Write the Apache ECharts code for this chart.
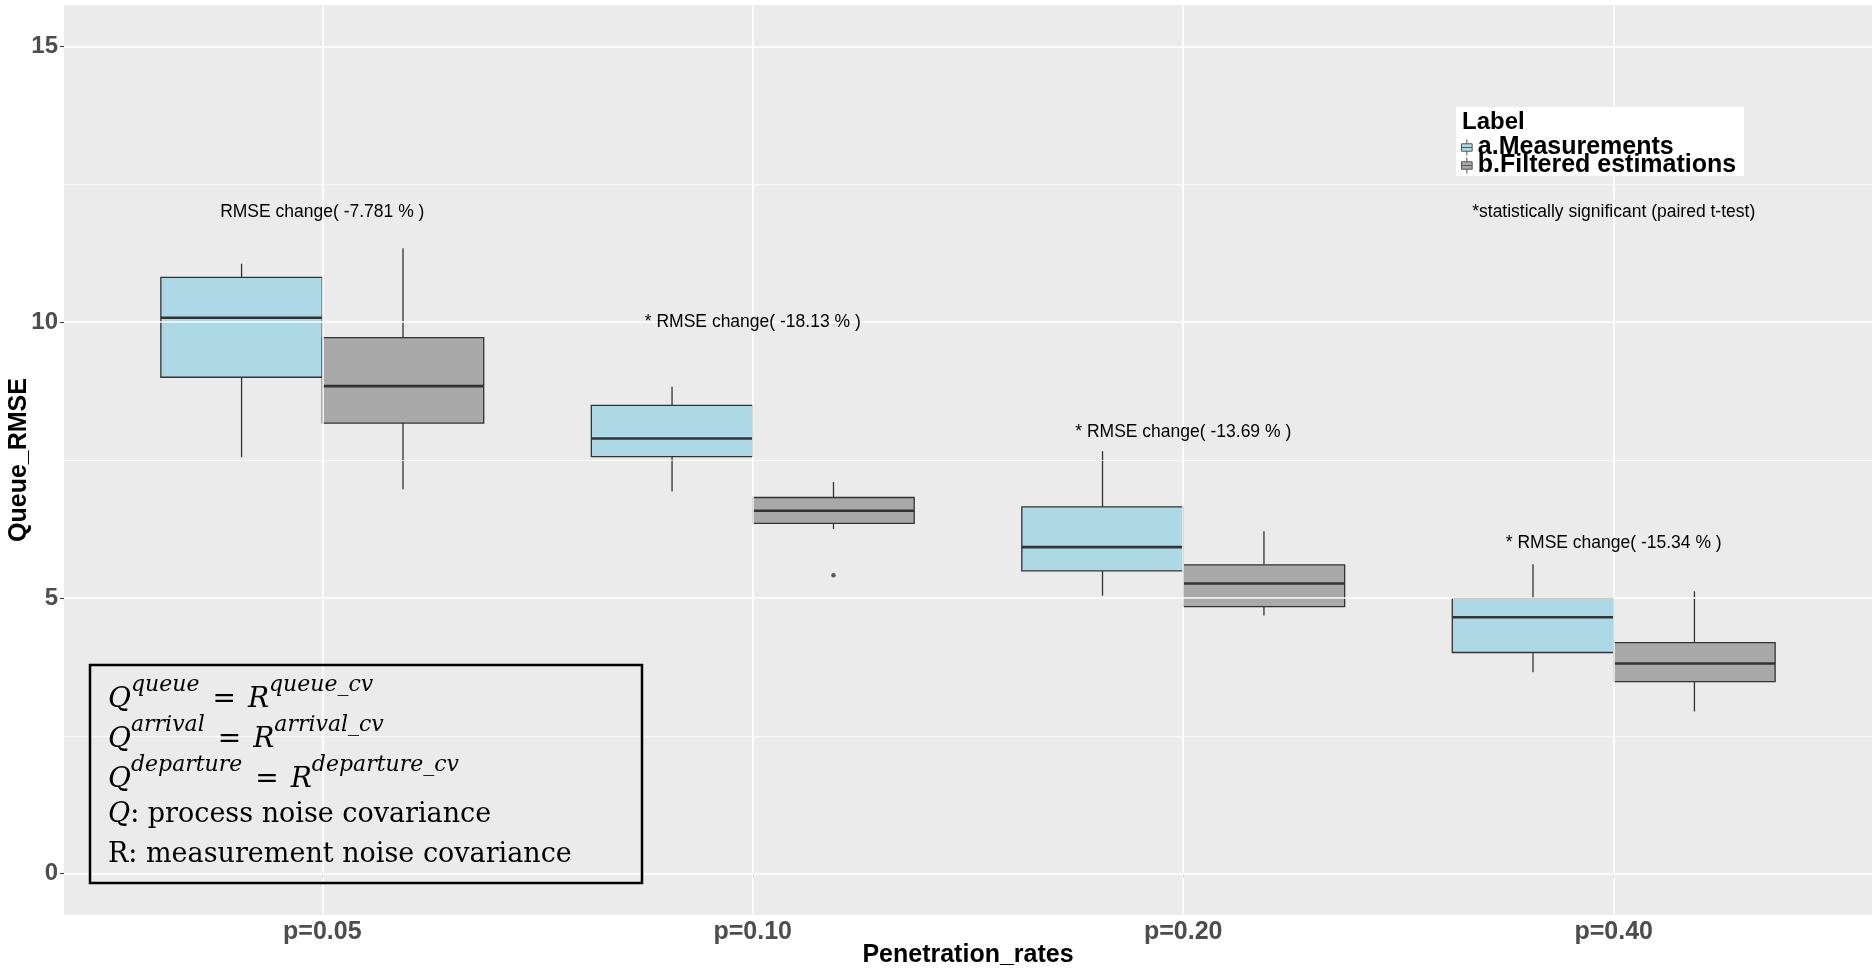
<!DOCTYPE html>
<html>
<head>
<meta charset="utf-8">
<title>Queue RMSE by penetration rate</title>
<script src="https://cdn.jsdelivr.net/npm/echarts@6/dist/echarts.min.js"></script>
<style>
  html, body { margin: 0; padding: 0; background: #ffffff; }
  #chart { width: 1872px; height: 973px; }
</style>
</head>
<body>
<div id="chart"></div>
<script>
// Penetration rates on the x axis
const categories = ['p=0.05', 'p=0.10', 'p=0.20', 'p=0.40'];
const groupNames = ['a.Measurements', 'b.Filtered estimations'];

// Five-number summaries per penetration rate: [min, Q1, median, Q3, max]
const measurements = [
  [7.55, 9.00, 10.08, 10.81, 11.06],
  [6.93, 7.56, 7.89, 8.49, 8.83],
  [5.04, 5.49, 5.92, 6.65, 7.66],
  [3.65, 4.01, 4.65, 4.99, 5.61]
];
const filtered = [
  [6.97, 8.17, 8.84, 9.72, 11.34],
  [6.25, 6.35, 6.58, 6.82, 7.10],
  [4.68, 4.84, 5.26, 5.60, 6.21],
  [2.94, 3.48, 3.81, 4.19, 5.12]
];
// Outliers of the filtered estimations: [category, value]
const filteredOutliers = [['p=0.10', 5.41]];

// RMSE change annotations above each pair of boxes
const changeLabels = [
  'RMSE change( -7.781 % )',
  '* RMSE change( -18.13 % )',
  '* RMSE change( -13.69 % )',
  '* RMSE change( -15.34 % )'
];
const changeLabelY = [12, 10, 8, 6];
const noteText = '*statistically significant (paired t-test)';
const noteCategory = 'p=0.40';
const noteY = 12;

// Axis ticks
const yTicks = [0, 5, 10, 15];
const yMinorTicks = [2.5, 7.5, 12.5];
const xTicks = [1, 2, 3, 4];

const SANS = '"Liberation Sans", Arial, sans-serif';
const SERIF = '"DejaVu Serif", serif';
const fills = ['#ADD8E6', '#A9A9A9'];
const dodge = [-0.1875, 0.1875];
const halfBox = 0.1875;
const outline = '#333333';

function boxRenderer(offset, fill) {
  return function (params, api) {
    const c = api.value(0) + offset;
    const lo = api.value(1), q1 = api.value(2), med = api.value(3), q3 = api.value(4), hi = api.value(5);
    const tl = api.coord([c - halfBox, q3]);
    const br = api.coord([c + halfBox, q1]);
    const top = api.coord([c, hi]);
    const bot = api.coord([c, lo]);
    const mL = api.coord([c - halfBox, med]);
    const mR = api.coord([c + halfBox, med]);
    const cx = top[0];
    return {
      type: 'group',
      children: [
        { type: 'line', shape: { x1: cx, y1: top[1], x2: cx, y2: tl[1] }, style: { stroke: outline, lineWidth: 1.3 } },
        { type: 'line', shape: { x1: cx, y1: br[1], x2: cx, y2: bot[1] }, style: { stroke: outline, lineWidth: 1.3 } },
        { type: 'rect', shape: { x: tl[0], y: tl[1], width: br[0] - tl[0], height: br[1] - tl[1] },
          style: { fill: fill, stroke: outline, lineWidth: 1.3 } },
        { type: 'line', shape: { x1: mL[0], y1: mL[1], x2: mR[0], y2: mR[1] }, style: { stroke: outline, lineWidth: 2.6 } }
      ]
    };
  };
}

const textItems = changeLabels.map((t, i) => ({ text: t, value: [i + 1, changeLabelY[i]] }));
textItems.push({ text: noteText, value: [categories.indexOf(noteCategory) + 1, noteY] });

const boxIcon = 'path://M5,0L5,4M0,4L10,4L10,11L0,11ZM0,7.5L10,7.5M5,11L5,15';

const mathRich = {
  q: { fontSize: 28, fontStyle: 'italic', fontFamily: SERIF, lineHeight: 40, verticalAlign: 'bottom' },
  s: { fontSize: 22, fontStyle: 'italic', fontFamily: SERIF, lineHeight: 25, verticalAlign: 'top' },
  e: { fontSize: 28, fontFamily: SERIF, lineHeight: 40, verticalAlign: 'bottom', padding: [0, 12, 0, 13] }
};

const chart = echarts.init(document.getElementById('chart'), null, { renderer: 'canvas' });
chart.setOption({
  animation: false,
  backgroundColor: '#ffffff',
  grid: {
    left: 64, right: 0, top: 5, bottom: 58,
    outerBoundsMode: 'none', containLabel: false,
    show: true, backgroundColor: '#EBEBEB', borderWidth: 0
  },
  xAxis: {
    type: 'value', min: 0.4, max: 4.6,
    axisLine: { show: false },
    axisTick: { show: true, length: 4, lineStyle: { color: '#333333', width: 1 }, customValues: xTicks },
    axisLabel: {
      customValues: xTicks,
      formatter: v => (Number.isInteger(v) && v >= 1 && v <= categories.length) ? categories[v - 1] : '',
      fontSize: 25, fontWeight: 'bold', color: '#4D4D4D', fontFamily: SANS, margin: 5
    },
    splitLine: { show: false },
    name: 'Penetration_rates', nameLocation: 'middle', nameGap: 28, nameMoveOverlap: false,
    nameTextStyle: { fontSize: 25, fontWeight: 'bold', color: '#000000', fontFamily: SANS }
  },
  yAxis: {
    type: 'value', min: -0.75, max: 15.75,
    axisLine: { show: false },
    axisTick: { show: true, length: 4, lineStyle: { color: '#333333', width: 1 }, customValues: yTicks },
    axisLabel: {
      customValues: yTicks,
      formatter: v => (yTicks.indexOf(v) >= 0 ? String(v) : ''),
      fontSize: 24, fontWeight: 'bold', color: '#4D4D4D', fontFamily: SANS, margin: 6
    },
    splitLine: { show: false },
    name: 'Queue_RMSE', nameLocation: 'middle', nameGap: 32, nameRotate: 90, nameMoveOverlap: false,
    nameTextStyle: { fontSize: 25, fontWeight: 'bold', color: '#000000', fontFamily: SANS }
  },
  legend: {
    orient: 'vertical', left: 1461, top: 135, padding: 0, itemGap: -7,
    itemWidth: 12, itemHeight: 16, selectedMode: false, z: 60,
    textStyle: { fontSize: 25, fontWeight: 'bold', color: '#000000', fontFamily: SANS },
    data: [
      { name: groupNames[0], icon: boxIcon, itemStyle: { color: fills[0], borderColor: '#555555', borderWidth: 1 } },
      { name: groupNames[1], icon: boxIcon, itemStyle: { color: fills[1], borderColor: '#555555', borderWidth: 1 } }
    ]
  },
  graphic: [
    { type: 'rect', shape: { x: 1456, y: 107, width: 288, height: 69 }, style: { fill: '#ffffff' }, z: 50, silent: true },
    { type: 'text', x: 1462, y: 122, z: 60, silent: true,
      style: { text: 'Label', font: 'bold 24px ' + SANS, fill: '#000000', verticalAlign: 'middle' } },
    // Noise covariance settings box
    { type: 'rect', shape: { x: 90, y: 665, width: 552, height: 218 },
      style: { fill: 'none', stroke: '#000000', lineWidth: 2.5 }, z: 40, silent: true },
    ...[
      ['queue', 694],
      ['arrival', 734],
      ['departure', 774]
    ].map(([w, y]) => ({
      type: 'text', x: 108, y: y, z: 41, silent: true,
      style: {
        text: '{q|Q}{s|' + w + '}{e|=}{q|R}{s|' + w + '_cv}',
        verticalAlign: 'middle', fill: '#000000', rich: mathRich
      }
    })),
    { type: 'text', x: 108, y: 815, z: 41, silent: true,
      style: {
        text: '{q|Q}{t|: process noise covariance}', verticalAlign: 'middle', fill: '#000000',
        rich: {
          q: { fontSize: 27, fontStyle: 'italic', fontFamily: SERIF },
          t: { fontSize: 27, fontFamily: SERIF }
        }
      } },
    { type: 'text', x: 108, y: 855, z: 41, silent: true,
      style: { text: 'R: measurement noise covariance', font: '27px ' + SERIF, fill: '#000000', verticalAlign: 'middle' } }
  ],
  series: [
    {
      // panel grid lines
      type: 'line', data: [], z: 1, silent: true,
      markLine: {
        silent: true, symbol: ['none', 'none'], animation: false, label: { show: false },
        lineStyle: { type: 'solid', color: '#ffffff' },
        emphasis: { disabled: true },
        data: [
          ...yMinorTicks.map(v => ({ yAxis: v, lineStyle: { type: 'solid', color: '#ffffff', width: 0.8 } })),
          ...yTicks.map(v => ({ yAxis: v, lineStyle: { type: 'solid', color: '#ffffff', width: 1.6 } })),
          ...xTicks.map(v => ({ xAxis: v, lineStyle: { type: 'solid', color: '#ffffff', width: 1.6 } }))
        ]
      }
    },
    {
      name: groupNames[0], type: 'custom', z: 3,
      itemStyle: { color: fills[0] },
      renderItem: boxRenderer(dodge[0], fills[0]),
      encode: { x: 0, y: [1, 2, 3, 4, 5] },
      data: measurements.map((d, i) => [i + 1].concat(d))
    },
    {
      name: groupNames[1], type: 'custom', z: 3,
      itemStyle: { color: fills[1] },
      renderItem: boxRenderer(dodge[1], fills[1]),
      encode: { x: 0, y: [1, 2, 3, 4, 5] },
      data: filtered.map((d, i) => [i + 1].concat(d))
    },
    {
      type: 'scatter', z: 4, silent: true, symbolSize: 4.5,
      itemStyle: { color: '#333333' },
      data: filteredOutliers.map(([cat, v]) => [categories.indexOf(cat) + 1 + dodge[1], v])
    },
    {
      type: 'custom', z: 5, silent: true,
      renderItem: function (params, api) {
        const p = api.coord([api.value(0), api.value(1)]);
        return {
          type: 'text', x: p[0], y: p[1],
          style: {
            text: textItems[params.dataIndex].text, font: '17.5px ' + SANS, fill: '#000000',
            align: 'center', verticalAlign: 'middle'
          }
        };
      },
      data: textItems.map(t => t.value)
    }
  ]
});
</script>
</body>
</html>
